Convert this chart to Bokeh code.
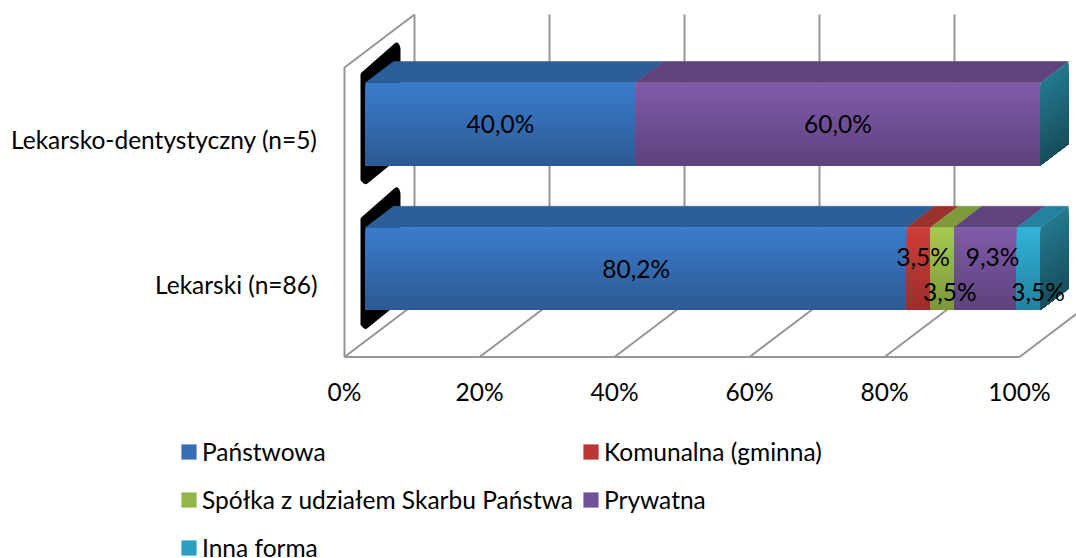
from bokeh.plotting import figure
from bokeh.layouts import column
from bokeh.models import Range1d, FixedTicker, Legend, LegendItem, ColumnDataSource
from bokeh.core.properties import value
from bokeh.embed import file_html
from bokeh.resources import INLINE

# ---- data ----
categories = ["Lekarski (n=86)", "Lekarsko-dentystyczny (n=5)"]
series_names = ["Państwowa", "Komunalna (gminna)", "Spółka z udziałem Skarbu Państwa", "Prywatna", "Inna forma"]
panstwowa = [80.2, 40.0]
komunalna = [3.5, 0.0]
spolka = [3.5, 0.0]
prywatna = [9.3, 60.0]
inna = [3.5, 0.0]
percent_ticks = [0, 20, 40, 60, 80, 100]

# ---- style ----
FONT = "Lato"
FS = "24.5px"
front_top = ["#3B7CCC", "#CF3D3A", "#A4CB4F", "#7F5BA9", "#31B3D9"]
front_bot = ["#2C5A94", "#9C2E2B", "#7A973A", "#5D427E", "#23819E"]
top_face = ["#2C5E98", "#9C302D", "#7F9A3D", "#5E437D", "#24829F"]
side_top, side_bot = "#23798F", "#174E5C"
GRID = "#959595"
GRID_W = 2
PX_X, PX_Y = 6.75, 144.75      # pixels per percent / per category row
DX, DY = 70 / PX_X, 53 / PX_Y  # 3-D depth vector of the chart box
Z0, Z1 = 0.3, 0.7              # bar depth within the box
BAR_H = 0.57
N_STRIPS = 41
TOP_H = 420                    # height of the chart figure; the legend figure fills the rest

# label nudges of the original (px): series -> (dx, dy) for the Lekarski row
label_nudge = [(0, 0), (4.5, -12.5), (7.5, 22.5), (7, -12.5), (9.3, 22.5)]


def X(x, z=0.0):
    return x + z * DX


def Y(y, z=0.0):
    return y + z * DY


def rgb(c):
    return [int(c[i:i + 2], 16) for i in (1, 3, 5)]


def mix(a, b, t):
    ca, cb = rgb(a), rgb(b)
    return "#%02x%02x%02x" % tuple(round(p + (q - p) * t) for p, q in zip(ca, cb))


p = figure(width=1076, height=TOP_H, output_backend="svg", toolbar_location=None,
           x_range=Range1d(-7 / PX_X, (1076 - 344) / PX_X),
           y_range=Range1d(-3.5 / PX_Y, 346.5 / PX_Y),
           min_border_left=337, min_border_right=0, min_border_top=10, min_border_bottom=TOP_H - 360,
           outline_line_color=None, background_fill_color="white", margin=0, frame_align=False)
p.grid.visible = False

# axes: real tick labels
xa = p.xaxis[0]
xa.ticker = FixedTicker(ticks=percent_ticks)
xa.major_label_overrides = {t: f"{t}%" for t in percent_ticks}
xa.axis_line_color = None
xa.major_tick_line_color = None
xa.minor_tick_line_color = None
xa.major_label_standoff = 10
xa.major_label_text_font = FONT
xa.major_label_text_font_size = FS
xa.major_label_text_color = "black"

ya = p.yaxis[0]
ya.ticker = FixedTicker(ticks=[0.5, 1.5])
ya.major_label_overrides = {0.5: categories[0], 1.5: categories[1]}
ya.axis_line_color = None
ya.major_tick_line_color = None
ya.minor_tick_line_color = None
ya.major_label_standoff = 14
ya.major_label_text_font = FONT
ya.major_label_text_font_size = FS
ya.major_label_text_color = "black"

# chart box
wall_x = [[X(t, 1), X(t, 1)] for t in percent_ticks[:-1]]
wall_y = [[Y(0, 1), Y(2, 1)] for t in percent_ticks[:-1]]
floor_x = [[X(t, 0), X(t, 1)] for t in percent_ticks]
floor_y = [[Y(0, 0), Y(0, 1)] for t in percent_ticks]
p.multi_line(wall_x + floor_x, wall_y + floor_y, line_color=GRID, line_width=GRID_W)
p.line([X(0, 0), X(100, 0)], [Y(0, 0), Y(0, 0)], line_color=GRID, line_width=GRID_W)
p.line([X(0, 1), X(0, 0), X(0, 0)], [Y(2, 1), Y(2, 0), Y(0, 0)], line_color=GRID, line_width=GRID_W)

# black end-caps behind each bar
for row in range(len(categories)):
    hi, lo = row + .5 + BAR_H / 2, row + .5 - BAR_H / 2
    x0, t, b = X(0, Z0), Y(hi, Z0), Y(lo, Z0)
    cx = [x0 + d / PX_X for d in (-2, 31, 32, 32, 0, -2)]
    cy = [t + 8 / PX_Y, t + 37 / PX_Y, t + 34 / PX_Y, b + 10 / PX_Y, b - 16 / PX_Y, b - 14 / PX_Y]
    p.patch(cx, cy, fill_color="black", line_color="black", line_width=6, line_join="round")

# bars
all_series = [panstwowa, komunalna, spolka, prywatna, inna]
txt = {"x": [], "y": [], "t": [], "xo": [], "yo": []}
for row in range(len(categories)):
    hi, lo = row + .5 + BAR_H / 2, row + .5 - BAR_H / 2
    left = 0.0
    for s, vals in enumerate(all_series):
        v = vals[row]
        if v <= 0:
            continue
        right = left + v
        # top face
        p.patch([X(left, Z0), X(right, Z0), X(right, Z1), X(left, Z1)],
                [Y(hi, Z0), Y(hi, Z0), Y(hi, Z1), Y(hi, Z1)],
                fill_color=top_face[s], line_color=top_face[s], line_width=0.5)
        # front face as gradient strips: each one runs to the bar's foot, the next paints over it
        src = {"l": [], "r": [], "t": [], "b": [], "c": []}
        for i in range(N_STRIPS):
            src["l"].append(X(left, Z0))
            src["r"].append(X(right, Z0))
            src["t"].append(Y(hi + (lo - hi) * i / N_STRIPS, Z0))
            src["b"].append(Y(lo, Z0))
            src["c"].append(mix(front_top[s], front_bot[s], i / (N_STRIPS - 1)))
        p.quad(left="l", right="r", top="t", bottom="b", fill_color="c", line_color=None,
               source=ColumnDataSource(src))
        nx, ny = label_nudge[s] if row == 0 else (0, 0)
        txt["x"].append(X(left + v / 2, Z0))
        txt["y"].append(Y(row + .5, Z0))
        txt["t"].append(f"{v:.1f}%".replace(".", ","))
        txt["xo"].append(nx)
        txt["yo"].append(ny)
        left = right
    # right end face, always in the last series' shade
    xs, ys, cs = [], [], []
    for i in range(N_STRIPS):
        a = hi + (lo - hi) * i / N_STRIPS
        xs.append([X(left, Z0), X(left, Z1), X(left, Z1), X(left, Z0)])
        ys.append([Y(a, Z0), Y(a, Z1), Y(lo, Z1), Y(lo, Z0)])
        cs.append(mix(side_top, side_bot, i / (N_STRIPS - 1)))
    p.patches(xs, ys, fill_color=cs, line_color=None)

p.text("x", "y", text="t", x_offset="xo", y_offset="yo", source=ColumnDataSource(txt),
       text_align="center", text_baseline="middle", text_color="black",
       text_font=value(FONT), text_font_size=FS)

# legend: a figure of its own beneath the chart
q = figure(width=1076, height=558 - TOP_H, output_backend="svg", toolbar_location=None,
           x_range=Range1d(0, 1), y_range=Range1d(0, 1), outline_line_color=None,
           min_border=0, margin=0, frame_align=False)
q.axis.visible = False
q.grid.visible = False
items = []
for s, name in enumerate(series_names):
    r = q.quad(left=[0], right=[0], top=[0], bottom=[0],
               fill_color=mix(front_top[s], front_bot[s], .4), line_color=None)
    items.append(LegendItem(label=name, renderers=[r]))
legend = Legend(items=items, ncols=2, orientation="horizontal", location=(179, -9),
                glyph_width=19, glyph_height=19, label_standoff=4, spacing=8, margin=0, padding=0,
                label_height=40, border_line_color=None, background_fill_alpha=0,
                label_text_font=FONT, label_text_font_size=FS, label_text_color="black")
q.add_layout(legend, "center")

page = column(p, q, spacing=0, margin=0)
open("out.html", "w").write(file_html(page, INLINE))
